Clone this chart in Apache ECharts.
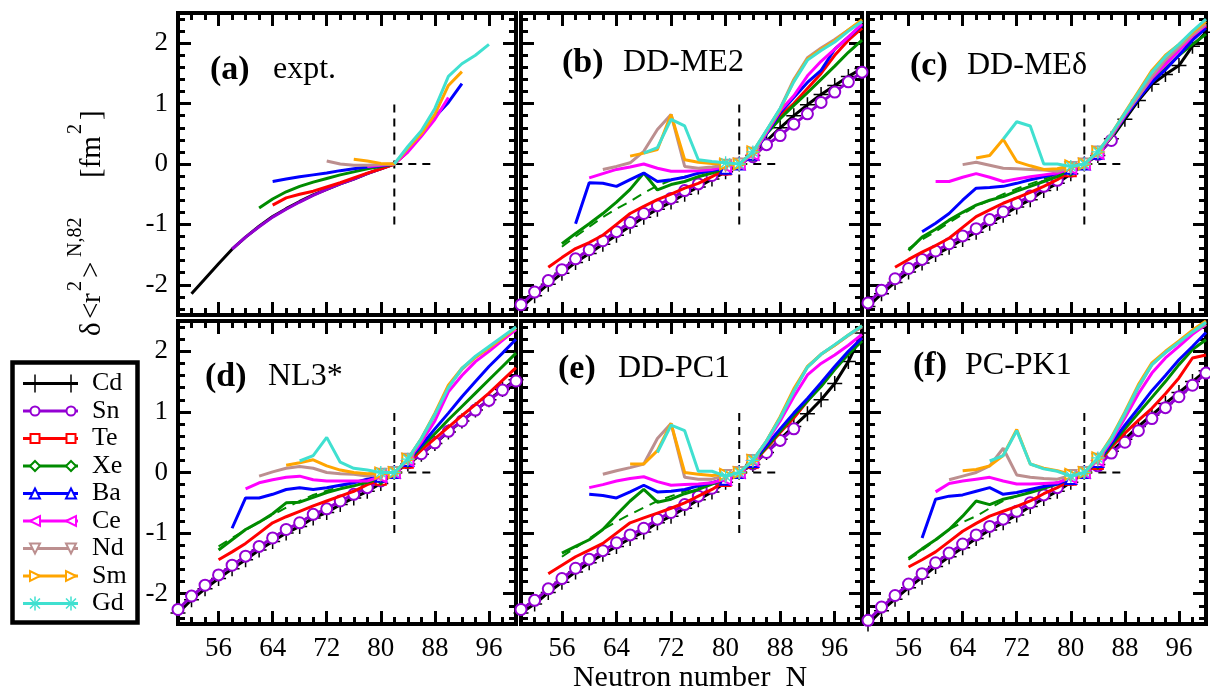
<!DOCTYPE html>
<html>
<head>
<meta charset="utf-8">
<script src="https://cdn.jsdelivr.net/npm/echarts@6/dist/echarts.min.js"></script>
<style>
html, body { margin: 0; padding: 0; background: #fff; }
#chart { width: 1210px; height: 694px; }
</style>
</head>
<body>
<div id="chart"></div>
<script>
// ---- axis ticks ----
const X_MAJOR = [56, 64, 72, 80, 88, 96];
const X_MINOR = [52, 54, 58, 60, 62, 66, 68, 70, 74, 76, 78, 82, 84, 86, 90, 92, 94, 98];
const Y_MAJOR = [-2, -1, 0, 1, 2];
const Y_MINOR = [-2.4, -2.2, -1.8, -1.6, -1.4, -1.2, -0.8, -0.6, -0.4, -0.2, 0.2, 0.4, 0.6, 0.8, 1.2, 1.4, 1.6, 1.8, 2.2, 2.4];

const SPECIES = ['Cd', 'Sn', 'Te', 'Xe', 'Ba', 'Ce', 'Nd', 'Sm', 'Gd'];

// guide lines through N = 82
const GUIDE_V = [[82, -1], [82, 1]];
const GUIDE_H = [[82, 0], [88, 0]];

// ---- (a) experiment: [N, delta r^2 (fm^2)] ----
const A_Cd = [[52,-2.15],[54,-1.90],[56,-1.65],[58,-1.41],[60,-1.21],[62,-1.03],[64,-0.87],[66,-0.74],[68,-0.62],[70,-0.51],[72,-0.42],[74,-0.33],[76,-0.25],[78,-0.16],[80,-0.08],[82,0]];
const A_Sn = [[58,-1.41],[60,-1.21],[62,-1.04],[64,-0.88],[66,-0.75],[68,-0.63],[70,-0.52],[72,-0.42],[74,-0.33],[76,-0.25],[78,-0.16],[80,-0.08],[82,0]];
const A_Te = [[64,-0.68],[66,-0.56],[68,-0.50],[70,-0.45],[72,-0.38],[74,-0.31],[76,-0.23],[78,-0.15],[80,-0.08],[82,0],[84,0.2]];
const A_Xe = [[62,-0.73],[64,-0.58],[66,-0.46],[68,-0.37],[70,-0.30],[72,-0.24],[74,-0.18],[76,-0.13],[78,-0.08],[80,-0.04],[82,0]];
const A_Ba = [[64,-0.29],[66,-0.25],[68,-0.21],[70,-0.18],[72,-0.15],[74,-0.11],[76,-0.08],[78,-0.05],[80,-0.03],[82,0],[84,0.22],[86,0.48],[88,0.78],[90,1.02],[92,1.33]];
const A_Ce = [[78,-0.04],[80,-0.02],[82,0],[84,0.2],[86,0.46],[88,0.74],[90,1.1]];
const A_Nd = [[72,0.05],[74,0.0],[76,-0.02],[78,-0.02],[80,-0.01],[82,0]];
const A_Sm = [[76,0.08],[78,0.05],[80,0.01],[82,0],[84,0.26],[86,0.5],[88,0.82],[90,1.3],[92,1.53]];
const A_Gd = [[82,0],[84,0.29],[86,0.55],[88,0.92],[90,1.45],[92,1.66],[94,1.8],[96,1.98]];

// ---- (b) DD-ME2 ----
const B_Cd = [[50,-2.38],[52,-2.18],[54,-1.99],[56,-1.81],[58,-1.63],[60,-1.48],[62,-1.33],[64,-1.18],[66,-1.03],[68,-0.88],[70,-0.75],[72,-0.63],[74,-0.50],[76,-0.38],[78,-0.25],[80,-0.13],[82,0],[84,0.14],[86,0.38],[88,0.6],[90,0.8],[92,0.98],[94,1.15],[96,1.3],[98,1.45],[100,1.58]];
const B_Sn = [[50,-2.33],[52,-2.12],[54,-1.93],[56,-1.75],[58,-1.57],[60,-1.42],[62,-1.27],[64,-1.12],[66,-0.97],[68,-0.82],[70,-0.69],[72,-0.57],[74,-0.44],[76,-0.33],[78,-0.19],[80,-0.09],[82,0],[84,0.12],[86,0.32],[88,0.47],[90,0.66],[92,0.83],[94,1.02],[96,1.19],[98,1.36],[100,1.52]];
const B_Te = [[54,-1.71],[56,-1.55],[58,-1.40],[60,-1.30],[62,-1.18],[64,-1.0],[66,-0.82],[68,-0.70],[70,-0.59],[72,-0.50],[74,-0.40],[76,-0.32],[78,-0.21],[80,-0.09],[82,0],[84,0.16],[86,0.52],[88,0.8],[90,1.0],[92,1.25],[94,1.5],[96,1.8],[98,2.05],[100,2.25]];
const B_Xe = [[56,-1.32],[58,-1.15],[60,-0.99],[62,-0.82],[64,-0.63],[66,-0.42],[68,-0.15],[70,-0.43],[72,-0.34],[74,-0.29],[76,-0.21],[78,-0.15],[80,-0.07],[82,0],[84,0.15],[86,0.5],[88,0.75],[90,0.97],[92,1.18],[94,1.4],[96,1.62],[98,1.85],[100,2.05]];
const B_Xe2 = [[56,-1.37],[58,-1.2],[60,-1.04],[62,-0.88],[64,-0.74],[66,-0.62],[68,-0.48],[70,-0.36],[72,-0.27],[74,-0.21],[76,-0.16],[78,-0.12],[80,-0.06],[82,0]];
const B_Ba = [[58,-0.99],[60,-0.31],[62,-0.32],[64,-0.37],[66,-0.26],[68,-0.15],[70,-0.29],[72,-0.26],[74,-0.22],[76,-0.15],[78,-0.11],[80,-0.07],[82,0],[84,0.16],[86,0.5],[88,0.85],[90,1.1],[92,1.35],[94,1.55],[96,1.9],[98,2.1],[100,2.3]];
const B_Ce = [[60,-0.23],[62,-0.16],[64,-0.09],[66,-0.05],[68,0.0],[70,-0.07],[72,-0.12],[74,-0.12],[76,-0.11],[78,-0.09],[80,-0.04],[82,0],[84,0.16],[86,0.52],[88,0.88],[90,1.13],[92,1.46],[94,1.7],[96,1.9],[98,2.1],[100,2.32]];
const B_Nd = [[62,-0.09],[64,-0.04],[66,0.02],[68,0.21],[70,0.57],[72,0.82],[74,-0.04],[76,-0.07],[78,-0.05],[80,-0.02],[82,0],[84,0.18],[86,0.55],[88,0.92],[90,1.4],[92,1.76],[94,1.92],[96,2.06],[98,2.22],[100,2.37]];
const B_Sm = [[66,0.13],[68,0.18],[70,0.24],[72,0.82],[74,0.07],[76,0.03],[78,0.01],[80,0.0],[82,0],[84,0.2],[86,0.55],[88,0.9],[90,1.38],[92,1.74],[94,1.9],[96,2.04],[98,2.22],[100,2.39]];
const B_Gd = [[68,0.18],[70,0.27],[72,0.74],[74,0.63],[76,0.07],[78,0.04],[80,0.02],[82,0],[84,0.2],[86,0.56],[88,0.92],[90,1.36],[92,1.72],[94,1.88],[96,2.02],[98,2.2],[100,2.36]];

// ---- (c) DD-MEdelta ----
const C_Cd = [[50,-2.36],[52,-2.15],[54,-1.96],[56,-1.79],[58,-1.64],[60,-1.5],[62,-1.38],[64,-1.25],[66,-1.13],[68,-0.98],[70,-0.85],[72,-0.71],[74,-0.59],[76,-0.44],[78,-0.32],[80,-0.16],[82,0],[84,0.14],[86,0.42],[88,0.74],[90,1.05],[92,1.32],[94,1.48],[96,1.63],[98,1.95],[100,2.18]];
const C_Sn = [[50,-2.3],[52,-2.09],[54,-1.9],[56,-1.73],[58,-1.58],[60,-1.44],[62,-1.32],[64,-1.19],[66,-1.07],[68,-0.92],[70,-0.79],[72,-0.65],[74,-0.53],[76,-0.37],[78,-0.27],[80,-0.12],[82,0],[84,0.16],[86,0.39]];
const C_Te = [[54,-1.71],[56,-1.58],[58,-1.46],[60,-1.35],[62,-1.23],[64,-1.05],[66,-0.87],[68,-0.76],[70,-0.65],[72,-0.56],[74,-0.47],[76,-0.37],[78,-0.26],[80,-0.12],[82,0],[84,0.18],[86,0.45],[88,0.8],[90,1.12],[92,1.42],[94,1.66],[96,1.9],[98,2.08],[100,2.28]];
const C_Xe = [[56,-1.43],[58,-1.21],[60,-1.08],[62,-0.93],[64,-0.8],[66,-0.68],[68,-0.6],[70,-0.54],[72,-0.45],[74,-0.37],[76,-0.29],[78,-0.21],[80,-0.1],[82,0],[84,0.18],[86,0.44],[88,0.78],[90,1.1],[92,1.38],[94,1.58],[96,1.8],[98,1.98],[100,2.15]];
const C_Xe2 = [[56,-1.40],[58,-1.25],[60,-1.12],[62,-0.97],[64,-0.83],[66,-0.70],[68,-0.6],[70,-0.5],[72,-0.41],[74,-0.33],[76,-0.25],[78,-0.17],[80,-0.08],[82,0]];
const C_Ba = [[58,-1.12],[60,-0.98],[62,-0.82],[64,-0.6],[66,-0.4],[68,-0.39],[70,-0.37],[72,-0.32],[74,-0.26],[76,-0.21],[78,-0.15],[80,-0.07],[82,0],[84,0.18],[86,0.46],[88,0.78],[90,1.08],[92,1.35],[94,1.56],[96,1.8],[98,2.05],[100,2.25]];
const C_Ce = [[60,-0.29],[62,-0.29],[64,-0.22],[66,-0.16],[68,-0.22],[70,-0.29],[72,-0.25],[74,-0.21],[76,-0.18],[78,-0.15],[80,-0.07],[82,0],[84,0.18],[86,0.46],[88,0.8],[90,1.12],[92,1.42],[94,1.65],[96,1.88],[98,2.12],[100,2.3]];
const C_Nd = [[64,-0.01],[66,0.03],[68,-0.02],[70,-0.07],[72,-0.08],[74,-0.09],[76,-0.1],[78,-0.12],[80,-0.06],[82,0],[84,0.2],[86,0.48],[88,0.82],[90,1.12],[92,1.45],[94,1.72],[96,1.93],[98,2.14],[100,2.32]];
const C_Sm = [[66,0.1],[68,0.14],[70,0.41],[72,0.04],[74,-0.03],[76,-0.09],[78,-0.08],[80,-0.03],[82,0],[84,0.2],[86,0.5],[88,0.85],[90,1.2],[92,1.55],[94,1.8],[96,1.98],[98,2.18],[100,2.36]];
const C_Gd = [[70,0.41],[72,0.7],[74,0.63],[76,0.0],[78,0.0],[80,-0.04],[82,0],[84,0.2],[86,0.5],[88,0.84],[90,1.18],[92,1.52],[94,1.78],[96,1.98],[98,2.2],[100,2.4]];

// ---- (d) NL3* ----
const D_Cd = [[50,-2.32],[52,-2.1],[54,-1.92],[56,-1.75],[58,-1.59],[60,-1.44],[62,-1.28],[64,-1.14],[66,-1.0],[68,-0.89],[70,-0.75],[72,-0.66],[74,-0.53],[76,-0.42],[78,-0.31],[80,-0.18],[82,0],[84,0.14],[86,0.3],[88,0.48],[90,0.67],[92,0.85],[94,1.03],[96,1.2],[98,1.37],[100,1.53]];
const D_Sn = [[50,-2.26],[52,-2.04],[54,-1.86],[56,-1.69],[58,-1.53],[60,-1.38],[62,-1.22],[64,-1.08],[66,-0.94],[68,-0.83],[70,-0.69],[72,-0.6],[74,-0.47],[76,-0.36],[78,-0.25],[80,-0.14],[82,0],[84,0.16],[86,0.31],[88,0.49],[90,0.68],[92,0.85],[94,1.03],[96,1.19],[98,1.36],[100,1.51]];
const D_Te = [[56,-1.44],[58,-1.31],[60,-1.17],[62,-1.0],[64,-0.83],[66,-0.73],[68,-0.64],[70,-0.55],[72,-0.47],[74,-0.39],[76,-0.31],[78,-0.2],[80,-0.12],[82,0],[84,0.16],[86,0.37],[88,0.56],[90,0.75],[92,0.94],[94,1.12],[96,1.31],[98,1.52],[100,1.73]];
const D_Xe = [[56,-1.28],[58,-1.11],[60,-0.94],[62,-0.82],[64,-0.68],[66,-0.5],[68,-0.49],[70,-0.41],[72,-0.33],[74,-0.27],[76,-0.22],[78,-0.16],[80,-0.1],[82,0],[84,0.18],[86,0.42],[88,0.64],[90,0.87],[92,1.09],[94,1.31],[96,1.53],[98,1.75],[100,1.97]];
const D_Xe2 = [[56,-1.22],[58,-1.08],[60,-0.95],[62,-0.82],[64,-0.7],[66,-0.58],[68,-0.47],[70,-0.37],[72,-0.3],[74,-0.23],[76,-0.17],[78,-0.11],[80,-0.05],[82,0]];
const D_Ba = [[58,-0.92],[60,-0.42],[62,-0.42],[64,-0.36],[66,-0.28],[68,-0.25],[70,-0.28],[72,-0.25],[74,-0.21],[76,-0.17],[78,-0.11],[80,-0.06],[82,0],[84,0.2],[86,0.45],[88,0.72],[90,0.98],[92,1.25],[94,1.5],[96,1.75],[98,1.97],[100,2.2]];
const D_Ce = [[60,-0.27],[62,-0.17],[64,-0.12],[66,-0.08],[68,-0.06],[70,-0.12],[72,-0.14],[74,-0.14],[76,-0.14],[78,-0.14],[80,-0.07],[82,0],[84,0.2],[86,0.5],[88,0.85],[90,1.33],[92,1.6],[94,1.83],[96,2.0],[98,2.18],[100,2.36]];
const D_Nd = [[62,-0.06],[64,0.01],[66,0.07],[68,0.1],[70,0.07],[72,0.0],[74,-0.02],[76,-0.03],[78,-0.06],[80,-0.03],[82,0],[84,0.22],[86,0.55],[88,0.95],[90,1.42],[92,1.7],[94,1.9],[96,2.06],[98,2.22],[100,2.39]];
const D_Sm = [[66,0.12],[68,0.16],[70,0.21],[72,0.11],[74,0.04],[76,0.0],[78,-0.02],[80,-0.01],[82,0],[84,0.22],[86,0.56],[88,0.98],[90,1.44],[92,1.72],[94,1.9],[96,2.06],[98,2.22],[100,2.39]];
const D_Gd = [[68,0.19],[70,0.28],[72,0.58],[74,0.17],[76,0.07],[78,0.04],[80,0.0],[82,0],[84,0.22],[86,0.56],[88,0.96],[90,1.4],[92,1.72],[94,1.92],[96,2.08],[98,2.24],[100,2.4]];

// ---- (e) DD-PC1 ----
const E_Cd = [[50,-2.32],[52,-2.17],[54,-1.98],[56,-1.81],[58,-1.64],[60,-1.49],[62,-1.35],[64,-1.22],[66,-1.09],[68,-0.98],[70,-0.83],[72,-0.72],[74,-0.59],[76,-0.45],[78,-0.32],[80,-0.16],[82,0],[84,0.13],[86,0.33],[88,0.55],[90,0.76],[92,0.97],[94,1.2],[96,1.47],[98,1.83],[100,2.3]];
const E_Sn = [[50,-2.26],[52,-2.11],[54,-1.92],[56,-1.75],[58,-1.58],[60,-1.43],[62,-1.29],[64,-1.16],[66,-1.03],[68,-0.92],[70,-0.77],[72,-0.66],[74,-0.53],[76,-0.39],[78,-0.26],[80,-0.11],[82,0],[84,0.14],[86,0.33],[88,0.53],[90,0.72]];
const E_Te = [[54,-1.67],[56,-1.53],[58,-1.39],[60,-1.28],[62,-1.17],[64,-1.0],[66,-0.83],[68,-0.75],[70,-0.67],[72,-0.59],[74,-0.5],[76,-0.39],[78,-0.28],[80,-0.14],[82,0],[84,0.16],[86,0.4],[88,0.66],[90,0.9],[92,1.18],[94,1.45],[96,1.72],[98,1.98],[100,2.22]];
const E_Xe = [[56,-1.33],[58,-1.22],[60,-1.11],[62,-0.94],[64,-0.7],[66,-0.47],[68,-0.28],[70,-0.49],[72,-0.44],[74,-0.35],[76,-0.28],[78,-0.19],[80,-0.11],[82,0],[84,0.16],[86,0.42],[88,0.68],[90,0.94],[92,1.18],[94,1.42],[96,1.7],[98,1.95],[100,2.17]];
const E_Xe2 = [[56,-1.39],[58,-1.24],[60,-1.09],[62,-0.94],[64,-0.81],[66,-0.69],[68,-0.58],[70,-0.47],[72,-0.39],[74,-0.31],[76,-0.24],[78,-0.17],[80,-0.08],[82,0]];
const E_Ba = [[60,-0.36],[62,-0.38],[64,-0.42],[66,-0.32],[68,-0.21],[70,-0.32],[72,-0.31],[74,-0.28],[76,-0.22],[78,-0.17],[80,-0.11],[82,0],[84,0.18],[86,0.45],[88,0.72],[90,0.98],[92,1.22],[94,1.48],[96,1.75],[98,2.0],[100,2.22]];
const E_Ce = [[60,-0.25],[62,-0.2],[64,-0.14],[66,-0.1],[68,-0.07],[70,-0.15],[72,-0.21],[74,-0.2],[76,-0.19],[78,-0.17],[80,-0.11],[82,0],[84,0.2],[86,0.5],[88,0.85],[90,1.25],[92,1.61],[94,1.8],[96,1.94],[98,2.1],[100,2.28]];
const E_Nd = [[62,-0.03],[64,0.03],[66,0.08],[68,0.14],[70,0.56],[72,0.81],[74,-0.08],[76,-0.11],[78,-0.11],[80,-0.05],[82,0],[84,0.2],[86,0.52],[88,0.9],[90,1.35],[92,1.74],[94,1.95],[96,2.1],[98,2.26],[100,2.4]];
const E_Sm = [[66,0.14],[68,0.14],[70,0.36],[72,0.81],[74,0.0],[76,-0.03],[78,-0.05],[80,-0.03],[82,0],[84,0.2],[86,0.52],[88,0.92],[90,1.38],[92,1.75],[94,1.95],[96,2.1],[98,2.27],[100,2.42]];
const E_Gd = [[70,0.33],[72,0.78],[74,0.69],[76,0.02],[78,0.02],[80,-0.06],[82,0],[84,0.2],[86,0.52],[88,0.9],[90,1.34],[92,1.74],[94,1.95],[96,2.11],[98,2.27],[100,2.42]];

// ---- (f) PC-PK1 ----
const F_Cd = [[50,-2.5],[52,-2.28],[54,-2.09],[56,-1.9],[58,-1.73],[60,-1.55],[62,-1.39],[64,-1.24],[66,-1.09],[68,-0.95],[70,-0.83],[72,-0.7],[74,-0.56],[76,-0.43],[78,-0.31],[80,-0.16],[82,0],[84,0.13],[86,0.35],[88,0.55],[90,0.76],[92,0.95],[94,1.14],[96,1.32],[98,1.5],[100,1.68]];
const F_Sn = [[50,-2.44],[52,-2.22],[54,-2.03],[56,-1.84],[58,-1.67],[60,-1.49],[62,-1.33],[64,-1.18],[66,-1.03],[68,-0.89],[70,-0.77],[72,-0.64],[74,-0.5],[76,-0.37],[78,-0.25],[80,-0.12],[82,0],[84,0.11],[86,0.32],[88,0.5],[90,0.69],[92,0.89],[94,1.07],[96,1.25],[98,1.44],[100,1.64]];
const F_Te = [[56,-1.56],[58,-1.44],[60,-1.31],[62,-1.14],[64,-0.97],[66,-0.84],[68,-0.72],[70,-0.64],[72,-0.56],[74,-0.47],[76,-0.35],[78,-0.25],[80,-0.12],[82,0],[84,0.14],[86,0.42],[88,0.65],[90,0.86],[92,1.06],[94,1.3],[96,1.56],[98,1.89],[100,1.94]];
const F_Xe = [[56,-1.42],[58,-1.26],[60,-1.11],[62,-0.94],[64,-0.72],[66,-0.47],[68,-0.53],[70,-0.44],[72,-0.39],[74,-0.33],[76,-0.26],[78,-0.19],[80,-0.1],[82,0],[84,0.16],[86,0.45],[88,0.72],[90,0.98],[92,1.24],[94,1.5],[96,1.78],[98,2.03],[100,2.19]];
const F_Xe2 = [[56,-1.44],[58,-1.28],[60,-1.12],[62,-0.94],[64,-0.82],[66,-0.72],[68,-0.59],[70,-0.47],[72,-0.39],[74,-0.31],[76,-0.24],[78,-0.17],[80,-0.08],[82,0]];
const F_Ba = [[58,-1.08],[60,-0.44],[62,-0.39],[64,-0.37],[66,-0.31],[68,-0.25],[70,-0.36],[72,-0.33],[74,-0.28],[76,-0.23],[78,-0.19],[80,-0.1],[82,0],[84,0.18],[86,0.48],[88,0.78],[90,1.06],[92,1.35],[94,1.6],[96,1.86],[98,2.08],[100,2.31]];
const F_Ce = [[60,-0.32],[62,-0.18],[64,-0.14],[66,-0.11],[68,-0.08],[70,-0.14],[72,-0.19],[74,-0.19],[76,-0.18],[78,-0.17],[80,-0.08],[82,0],[84,0.2],[86,0.52],[88,0.9],[90,1.3],[92,1.64],[94,1.89],[96,2.08],[98,2.28],[100,2.44]];
const F_Nd = [[62,-0.12],[64,-0.06],[66,0.0],[68,0.11],[70,0.4],[72,-0.04],[74,-0.08],[76,-0.1],[78,-0.11],[80,-0.05],[82,0],[84,0.22],[86,0.55],[88,0.95],[90,1.4],[92,1.78],[94,1.98],[96,2.15],[98,2.32],[100,2.45]];
const F_Sm = [[64,0.03],[66,0.05],[68,0.11],[70,0.28],[72,0.71],[74,0.14],[76,0.07],[78,0.03],[80,-0.03],[82,0],[84,0.24],[86,0.58],[88,1.0],[90,1.45],[92,1.81],[94,2.0],[96,2.17],[98,2.35],[100,2.5]];
const F_Gd = [[68,0.19],[70,0.28],[72,0.69],[74,0.14],[76,0.06],[78,0.02],[80,-0.06],[82,0],[84,0.24],[86,0.56],[88,0.98],[90,1.42],[92,1.78],[94,1.98],[96,2.15],[98,2.32],[100,2.48]];

// ---- panel content ----
const PANELS = [
  { tag: '(a)', name: 'expt.',  marks: false, sets: { Cd: A_Cd, Sn: A_Sn, Te: A_Te, Xe: A_Xe, Ba: A_Ba, Ce: A_Ce, Nd: A_Nd, Sm: A_Sm, Gd: A_Gd }, xe2: null },
  { tag: '(b)', name: 'DD-ME2', marks: true,  sets: { Cd: B_Cd, Sn: B_Sn, Te: B_Te, Xe: B_Xe, Ba: B_Ba, Ce: B_Ce, Nd: B_Nd, Sm: B_Sm, Gd: B_Gd }, xe2: B_Xe2 },
  { tag: '(c)', name: 'DD-ME\u03b4', marks: true, sets: { Cd: C_Cd, Sn: C_Sn, Te: C_Te, Xe: C_Xe, Ba: C_Ba, Ce: C_Ce, Nd: C_Nd, Sm: C_Sm, Gd: C_Gd }, xe2: C_Xe2 },
  { tag: '(d)', name: 'NL3*',   marks: true,  sets: { Cd: D_Cd, Sn: D_Sn, Te: D_Te, Xe: D_Xe, Ba: D_Ba, Ce: D_Ce, Nd: D_Nd, Sm: D_Sm, Gd: D_Gd }, xe2: D_Xe2 },
  { tag: '(e)', name: 'DD-PC1', marks: true,  sets: { Cd: E_Cd, Sn: E_Sn, Te: E_Te, Xe: E_Xe, Ba: E_Ba, Ce: E_Ce, Nd: E_Nd, Sm: E_Sm, Gd: E_Gd }, xe2: E_Xe2 },
  { tag: '(f)', name: 'PC-PK1', marks: true,  sets: { Cd: F_Cd, Sn: F_Sn, Te: F_Te, Xe: F_Xe, Ba: F_Ba, Ce: F_Ce, Nd: F_Nd, Sm: F_Sm, Gd: F_Gd }, xe2: F_Xe2 }
];

// ---- layout & style ----
const SERIF = '"Liberation Serif", "DejaVu Serif", serif';
const COLOR = { Cd: '#000000', Sn: '#9400d3', Te: '#ff0000', Xe: '#008b00', Ba: '#0000ff', Ce: '#ff00ff', Nd: '#bc8f8f', Sm: '#ffa500', Gd: '#40e0d0' };
const PLUS_PATH = 'path://M-1,-10L1,-10L1,-1L10,-1L10,1L1,1L1,10L-1,10L-1,1L-10,1L-10,-1L-1,-1Z';
const STAR_PATH = 'path://M-1,-10L1,-10L1,-1L10,-1L10,1L1,1L1,10L-1,10L-1,1L-10,1L-10,-1L-1,-1Z' +
  'M6.36,-7.78L7.78,-6.36L1.41,0L7.78,6.36L6.36,7.78L0,1.41L-6.36,7.78L-7.78,6.36L-1.41,0L-7.78,-6.36L-6.36,-7.78L0,-1.41Z';
const MARK = {
  Cd: { symbol: PLUS_PATH, size: 15, rot: 0, solid: true },
  Sn: { symbol: 'emptyCircle', size: 11, rot: 0 },
  Te: { symbol: 'emptyRect', size: 10, rot: 0 },
  Xe: { symbol: 'emptyDiamond', size: 11, rot: 0 },
  Ba: { symbol: 'emptyTriangle', size: 11, rot: 0 },
  Ce: { symbol: 'emptyTriangle', size: 11, rot: 90 },
  Nd: { symbol: 'emptyTriangle', size: 11, rot: 180 },
  Sm: { symbol: 'emptyTriangle', size: 11, rot: -90 },
  Gd: { symbol: STAR_PATH, size: 13, rot: 0, solid: true }
};
const GRIDS = [
  { left: 178, top: 13, width: 338, height: 302 },
  { left: 521, top: 13, width: 341, height: 302 },
  { left: 868, top: 13, width: 338, height: 302 },
  { left: 178, top: 321, width: 338, height: 303 },
  { left: 521, top: 321, width: 341, height: 303 },
  { left: 868, top: 321, width: 338, height: 303 }
];
const LABEL_POS = [
  { x1: 210, x2: 273, base: 81 },
  { x1: 562, x2: 623, base: 74 },
  { x1: 910, x2: 967, base: 77 },
  { x1: 205, x2: 268, base: 388 },
  { x1: 558, x2: 618, base: 380 },
  { x1: 913, x2: 965, base: 377 }
];

const tickLine = { color: '#000', width: 3 };
function axisSet(g, dim, showLabels) {
  const isX = dim === 'x';
  const major = isX ? X_MAJOR : Y_MAJOR;
  const minor = isX ? X_MINOR : Y_MINOR;
  const sides = isX ? ['bottom', 'top'] : ['left', 'right'];
  const out = [];
  sides.forEach((pos, si) => {
    [[major, 13], [minor, 7]].forEach(([vals, len], mi) => {
      const lab = showLabels && si === 0 && mi === 0;
      out.push({
        type: 'value', gridIndex: g, position: pos,
        min: isX ? 50 : -2.5, max: isX ? 100 : 2.5,
        axisLine: { show: false, onZero: false },
        splitLine: { show: false },
        axisTick: { show: true, inside: true, length: len, customValues: vals, lineStyle: tickLine },
        axisLabel: lab
          ? { show: true, customValues: vals, margin: isX ? 11 : 10, color: '#000', fontFamily: SERIF, fontSize: 27 }
          : { show: false }
      });
    });
  });
  return out;
}

const xAxis = [], yAxis = [], series = [];
PANELS.forEach((p, g) => {
  xAxis.push(...axisSet(g, 'x', g >= 3));
  yAxis.push(...axisSet(g, 'y', g % 3 === 0));
  const ax = { xAxisIndex: 4 * g, yAxisIndex: 4 * g };
  const guide = (data) => Object.assign({
    type: 'line', data, symbol: 'none', silent: true, z: 1,
    lineStyle: { color: '#000', width: 2, type: [8, 6] }
  }, ax);
  series.push(guide(GUIDE_V), guide(GUIDE_H));
  if (p.xe2) {
    series.push(Object.assign({
      type: 'line', name: 'Xe', data: p.xe2, symbol: 'none', z: 3,
      lineStyle: { color: COLOR.Xe, width: 2, type: [10, 7] }
    }, ax));
  }
  SPECIES.forEach((sp, k) => {
    const m = MARK[sp];
    const allMarks = sp === 'Cd' || sp === 'Sn';
    series.push(Object.assign({
      type: 'line', name: sp, data: p.sets[sp], z: 2 + k,
      lineStyle: { color: COLOR[sp], width: 3 },
      itemStyle: m.solid ? { color: COLOR[sp], borderWidth: 0 } : { color: COLOR[sp], borderColor: COLOR[sp], borderWidth: 2.2 },
      symbol: p.marks ? (v) => (allMarks || (v[0] >= 80 && v[0] <= 84)) ? m.symbol : 'none' : 'none',
      symbolSize: m.size, symbolRotate: m.rot,
      emphasis: { disabled: true }
    }, ax));
  });
});

// ---- text and legend drawn as graphics ----
const graphic = [];
PANELS.forEach((p, g) => {
  const L = LABEL_POS[g];
  graphic.push({ type: 'text', x: L.x1, y: L.base - 11, style: { text: p.tag, fill: '#000', font: 'bold 34px ' + SERIF, textVerticalAlign: 'middle' } });
  graphic.push({ type: 'text', x: L.x2, y: L.base - 11, style: { text: p.name, fill: '#000', font: '32px ' + SERIF, textVerticalAlign: 'middle' } });
});

graphic.push({ type: 'text', x: 690, y: 678, style: { text: 'Neutron number  N', fill: '#000', font: '30px ' + SERIF, textAlign: 'center', textVerticalAlign: 'middle' } });

// rotated y-axis title with superscripts; each piece sits at its own offset along the text line
const Y_TITLE = [
  { t: '\u03b4', at: 0, sup: false }, { t: '<', at: 17, sup: false }, { t: 'r', at: 33, sup: false },
  { t: '2', at: 45, sup: true }, { t: '>', at: 58, sup: false },
  { t: 'N,82', at: 79, sup: true },
  { t: '[fm', at: 158, sup: false }, { t: '2', at: 202, sup: true }, { t: ']', at: 216, sup: false }
];
graphic.push({
  type: 'group', x: 102, y: 336, rotation: Math.PI / 2,
  children: Y_TITLE.map(pt => ({
    type: 'text', x: pt.at, y: pt.sup ? -26 : -10,
    style: { text: pt.t, fill: '#000', font: (pt.sup ? 20 : 29) + 'px ' + SERIF, textVerticalAlign: 'middle' }
  }))
});

// legend box
const LEG = { x: 12.5, y: 362.5, w: 125, h: 260, row0: 383.5, dy: 27.5, lx1: 23, lx2: 78, s1: 35, s2: 71, tx: 92 };
graphic.push({ type: 'rect', shape: { x: LEG.x, y: LEG.y, width: LEG.w, height: LEG.h }, style: { fill: '#fff', stroke: '#000', lineWidth: 4.5 }, z: 10 });
function markerShape(sp, cx, cy) {
  const c = COLOR[sp];
  const open = { fill: '#fff', stroke: c, lineWidth: 2 };
  const r = 5;
  const tri = (pts) => ({ type: 'polygon', shape: { points: pts }, style: open, z: 12 });
  switch (sp) {
    case 'Cd': return { type: 'line', shape: { x1: cx, y1: cy - 9, x2: cx, y2: cy + 9 }, style: { stroke: c, lineWidth: 1.5 }, z: 12 };
    case 'Sn': return { type: 'circle', shape: { cx, cy, r: 4.5 }, style: open, z: 12 };
    case 'Te': return { type: 'rect', shape: { x: cx - 4.5, y: cy - 4.5, width: 9, height: 9 }, style: open, z: 12 };
    case 'Xe': return tri([[cx, cy - r], [cx + r, cy], [cx, cy + r], [cx - r, cy]]);
    case 'Ba': return tri([[cx, cy - r], [cx + r, cy + r], [cx - r, cy + r]]);
    case 'Ce': return tri([[cx - r, cy], [cx + r, cy - r], [cx + r, cy + r]]);
    case 'Nd': return tri([[cx - r, cy - r], [cx + r, cy - r], [cx, cy + r]]);
    case 'Sm': return tri([[cx + r, cy], [cx - r, cy - r], [cx - r, cy + r]]);
    case 'Gd': return { type: 'group', z: 12, children: [0, 45, 90, 135].map(a => {
      const t = a * Math.PI / 180, R = 7;
      return { type: 'line', shape: { x1: cx - R * Math.cos(t), y1: cy - R * Math.sin(t), x2: cx + R * Math.cos(t), y2: cy + R * Math.sin(t) }, style: { stroke: c, lineWidth: 1.5 }, z: 12 };
    }) };
  }
}
SPECIES.forEach((sp, i) => {
  const cy = LEG.row0 + i * LEG.dy;
  graphic.push({ type: 'line', shape: { x1: LEG.lx1, y1: cy, x2: LEG.lx2, y2: cy }, style: { stroke: COLOR[sp], lineWidth: 3 }, z: 11 });
  graphic.push(markerShape(sp, LEG.s1, cy), markerShape(sp, LEG.s2, cy));
  graphic.push({ type: 'text', x: LEG.tx, y: cy, style: { text: sp, fill: '#000', font: '26px ' + SERIF, textVerticalAlign: 'middle' }, z: 12 });
});

const chart = echarts.init(document.getElementById('chart'), null, { renderer: 'canvas' });
chart.setOption({
  animation: false,
  backgroundColor: '#fff',
  grid: GRIDS.map(r => Object.assign({ show: true, borderColor: '#000', borderWidth: 4, backgroundColor: 'transparent' }, r)),
  xAxis, yAxis, series, graphic
});
</script>
</body>
</html>
